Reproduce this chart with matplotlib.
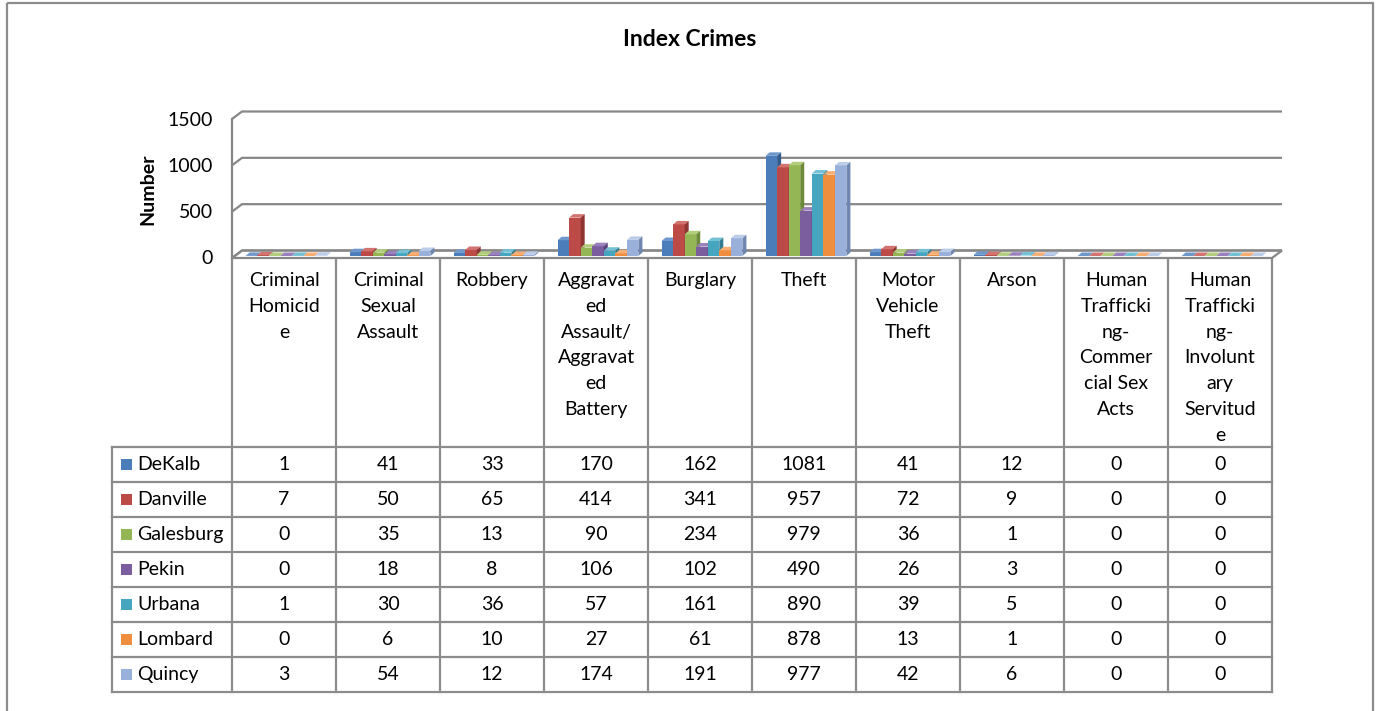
import matplotlib
matplotlib.use("Agg")
import matplotlib.pyplot as plt
from matplotlib.patches import Polygon, Rectangle
import numpy as np

plt.rcParams["font.family"] = ["Lato", "DejaVu Sans"]

# ---- data -------------------------------------------------------------
categories = [
    "Criminal\nHomicid\ne",
    "Criminal\nSexual\nAssault",
    "Robbery",
    "Aggravat\ned\nAssault/\nAggravat\ned\nBattery",
    "Burglary",
    "Theft",
    "Motor\nVehicle\nTheft",
    "Arson",
    "Human\nTrafficki\nng-\nCommer\ncial Sex\nActs",
    "Human\nTrafficki\nng-\nInvolunt\nary\nServitud\ne",
]
cities = ["DeKalb", "Danville", "Galesburg", "Pekin", "Urbana", "Lombard", "Quincy"]
dekalb = [1, 41, 33, 170, 162, 1081, 41, 12, 0, 0]
danville = [7, 50, 65, 414, 341, 957, 72, 9, 0, 0]
galesburg = [0, 35, 13, 90, 234, 979, 36, 1, 0, 0]
pekin = [0, 18, 8, 106, 102, 490, 26, 3, 0, 0]
urbana = [1, 30, 36, 57, 161, 890, 39, 5, 0, 0]
lombard = [0, 6, 10, 27, 61, 878, 13, 1, 0, 0]
quincy = [3, 54, 12, 174, 191, 977, 42, 6, 0, 0]
series = [dekalb, danville, galesburg, pekin, urbana, lombard, quincy]
yticks = [0, 500, 1000, 1500]

front = ["#4A7DBA", "#BC4B48", "#94B655", "#7A5E9E", "#46A6C0", "#F08E3F", "#98B0DA"]
tops = ["#6E98CC", "#D27370", "#B2CD7C", "#9A80BC", "#74C1D6", "#F8AE72", "#BCCDEA"]
sides = ["#335C8E", "#8E3533", "#6D8A39", "#5A4178", "#317C91", "#B8692B", "#6F86B0"]

W, H = 1377, 711
grid_c = "#878787"
fs = 14

fig = plt.figure(figsize=(W / 100, H / 100), dpi=100)

# overlay in pixel coordinates for frame, title and data table
ov = fig.add_axes([0, 0, 1, 1])
ov.set_xlim(0, W)
ov.set_ylim(H, 0)
ov.axis("off")

# ---- 3D-ish clustered columns ------------------------------------------
x0, x1, y0, y1 = 232, 1272, 258, 119
ax = fig.add_axes([x0 / W, (H - y0) / H, (x1 - x0) / W, (y0 - y1) / H])
ax.set_xlim(-0.5, 9.5)
ax.set_ylim(0, 1500)
ax.axis("off")

pxx = (x1 - x0) / 10.0          # px per category
pxy = (y0 - y1) / 1500.0        # px per unit
wdx, wdy = 10 / pxx, 7.5 / pxy  # wall depth
ox, oy = 2 / pxx, 2 / pxy       # bar front offset from floor front
bdx, bdy = 4 / pxx, 3.5 / pxy   # bar depth

# floor
ax.add_patch(Polygon([(-0.5, 0), (9.5, 0), (9.5 + wdx, wdy), (-0.5 + wdx, wdy)],
                     closed=True, fc="white", ec=grid_c, lw=1.6, clip_on=False, zorder=1))
# back wall gridlines + left wall
for t in yticks:
    ax.plot([-0.5, -0.5 + wdx, 9.5 + wdx], [t, t + wdy, t + wdy], color=grid_c,
            lw=1.6, clip_on=False, zorder=1, solid_capstyle="butt")
ax.plot([-0.5, -0.5], [0, 1500], color=grid_c, lw=1.6, clip_on=False, zorder=1)

n = len(series)
bw = 0.111
xs = np.arange(len(categories))
z = 2
for j in xs:
    for i, s in enumerate(series):
        h = s[j]
        left = j - n * bw / 2 + i * bw + ox
        ax.bar(left, h, width=bw, bottom=oy, align="edge", color=front[i],
               lw=0, zorder=z, clip_on=False)
        top = oy + h
        ax.add_patch(Polygon([(left, top), (left + bw, top), (left + bw + bdx, top + bdy),
                              (left + bdx, top + bdy)], closed=True, fc=tops[i], lw=0,
                             zorder=z, clip_on=False))
        ax.add_patch(Polygon([(left + bw, oy), (left + bw + bdx, oy + bdy),
                              (left + bw + bdx, top + bdy), (left + bw, top)], closed=True,
                             fc=sides[i], lw=0, zorder=z, clip_on=False))
        z += 1

for t in yticks:
    ov.text(213, y0 - t * pxy + 1, str(t), ha="right", va="center", fontsize=fs)

ov.text(148, 189, "Number", rotation=90, ha="center", va="center",
        fontsize=fs, fontweight="bold")
ov.text(690, 40, "Index Crimes", ha="center", va="center", fontsize=16.5, fontweight="bold")

# ---- data table -----------------------------------------------------
lc = "#8C8C8C"
hdr_top, hdr_bot, row_h = 258, 447, 35
tab_left = 112
ncol = len(categories)
bottom = hdr_bot + row_h * n
for k in range(ncol + 1):
    xx = x0 + k * pxx
    ov.plot([xx, xx], [hdr_top, bottom], color=lc, lw=1.6)
ov.plot([tab_left, tab_left], [hdr_bot, bottom], color=lc, lw=1.6)
for r in range(n + 1):
    yy = hdr_bot + r * row_h
    ov.plot([tab_left, x1], [yy, yy], color=lc, lw=1.6)

for k, lab in enumerate(categories):
    ov.text(x0 + (k + 0.5) * pxx, 272, lab, ha="center", va="top", fontsize=fs,
            linespacing=1.63)

for r, (city, s) in enumerate(zip(cities, series)):
    cy = hdr_bot + (r + 0.5) * row_h
    ov.add_patch(Rectangle((121, cy - 5.5), 11, 11, fc=front[r], lw=0))
    ov.text(137, cy, city, ha="left", va="center", fontsize=fs)
    for k, v in enumerate(s):
        ov.text(x0 + (k + 0.5) * pxx, cy, str(v), ha="center", va="center", fontsize=fs)

# chart frame
ov.add_patch(Rectangle((7, 3), 1366, 740, fill=False, ec="#8C8C8C", lw=1.6, clip_on=False))

fig.savefig("out.png", dpi=100)
